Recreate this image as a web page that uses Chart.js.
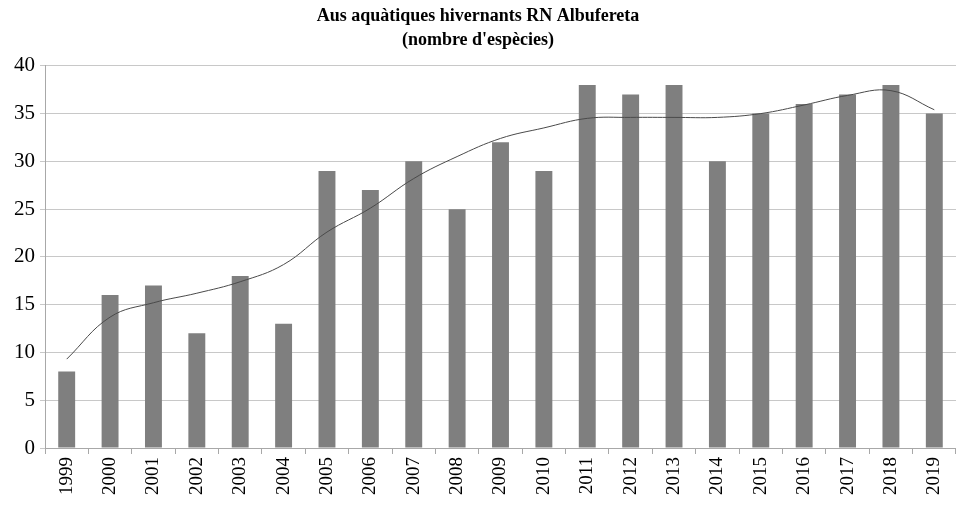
<!DOCTYPE html>
<html>
<head>
<meta charset="utf-8">
<script src="https://cdn.jsdelivr.net/npm/chart.js@4/dist/chart.umd.min.js"></script>
<style>
  html, body { margin: 0; padding: 0; background: #fff; }
  #wrap { width: 956px; height: 505px; }
</style>
</head>
<body>
<div id="wrap"><canvas id="myChart" width="956" height="505"></canvas></div>
<script>
'use strict';
const years = ['1999', '2000', '2001', '2002', '2003', '2004', '2005', '2006', '2007', '2008',
  '2009', '2010', '2011', '2012', '2013', '2014', '2015', '2016', '2017', '2018', '2019'];
const species = [8, 16, 17, 12, 18, 13, 29, 27, 30, 25, 32, 29, 38, 37, 38, 30, 35, 36, 37, 38, 35];
// trend curve
const trend = [9.3, 13.7, 15.2, 16.2, 17.4, 19.2, 22.6, 25.1, 28.2, 30.5, 32.4, 33.5, 34.5,
  34.6, 34.6, 34.6, 35.0, 35.9, 36.9, 37.4, 35.4];
const titleLines = ['Aus aquàtiques hivernants RN Albufereta', "(nombre d'espècies)"];

const serif = '"Liberation Serif", "DejaVu Serif", serif';

let ctx = document.getElementById('myChart').getContext('2d');
let chart = new Chart(ctx, {
  type: 'bar',
  data: {
    labels: years,
    datasets: [{
      type: 'line',
      label: 'tendència',
      data: trend,
      borderColor: '#4a4a4a',
      borderWidth: 1,
      pointRadius: 0,
      tension: 0.4,
      fill: false,
      order: 0
    },
    {
      label: 'espècies',
      data: species,
      backgroundColor: '#7f7f7f',
      borderWidth: 0,
      barPercentage: 0.39,
      categoryPercentage: 1,
      order: 1
    }]
  },
  options: {
    responsive: false,
    animation: false,
    layout: { padding: 0 },
    plugins: {
      legend: { display: false },
      tooltip: { enabled: false },
      title: {
        display: true,
        text: titleLines,
        color: '#000',
        font: { family: serif, size: 18, weight: 'bold', lineHeight: 1.3 },
        padding: { top: 5, bottom: 14 }
      }
    },
    scales: {
      x: {
        grid: {
          drawOnChartArea: false,
          color: '#a8a8a8',
          tickLength: 6,
          offset: true
        },
        border: { color: '#a8a8a8' },
        ticks: {
          color: '#000',
          font: { family: serif, size: 19 },
          minRotation: 90,
          maxRotation: 90,
          padding: 3
        },
        afterFit(scale) {
          scale.height = 57;
          scale.paddingRight = 0;
          scale.paddingLeft = 0;
        }
      },
      y: {
        min: 0,
        max: 40,
        ticks: {
          stepSize: 5,
          color: '#000',
          font: { family: serif, size: 21 },
          padding: 5
        },
        grid: { color: '#c8c8c8', tickLength: 5 },
        border: { color: '#a8a8a8' },
        afterFit(scale) { scale.width = 45; }
      }
    }
  }
});
</script>
</body>
</html>
